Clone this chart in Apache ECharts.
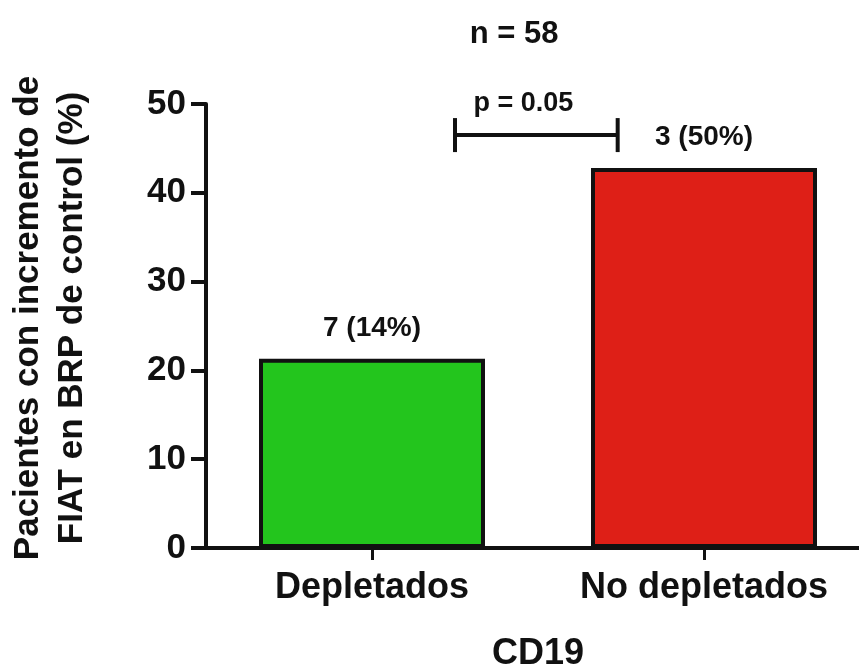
<!DOCTYPE html>
<html>
<head>
<meta charset="utf-8">
<script src="https://cdn.jsdelivr.net/npm/echarts@6/dist/echarts.min.js"></script>
<style>
html,body{margin:0;padding:0;background:#fff;overflow:hidden;}
#chart{width:859px;height:666px;}
</style>
</head>
<body>
<div id="chart"></div>
<script>
var categories = ['Depletados', 'No depletados'];
var values = [21.3, 42.8];
var barLabels = ['7 (14%)', '3 (50%)'];
var barColors = ['#23c51d', '#de1f17'];
var yTicks = [0, 10, 20, 30, 40, 50];
var titleText = 'n = 58';
var xName = 'CD19';
var yName = 'Pacientes con incremento de\nFIAT en BRP de control (%)';
var pText = 'p = 0.05';
// bracket: [start position, end position, height] in axis units
var bracket = [[0.25, 0.74, 46.5]];

var FONT = '"Liberation Sans", Arial, Helvetica, sans-serif';
var chart = echarts.init(document.getElementById('chart'), null, {renderer: 'canvas'});

var option = {
  backgroundColor: '#ffffff',
  animation: false,
  title: {
    text: titleText,
    left: 509, top: 14,
    textAlign: 'center',
    textStyle: {fontFamily: FONT, fontSize: 31, fontWeight: 'bold', color: '#111'}
  },
  grid: {left: 206, width: 664, top: 104, bottom: 118, containLabel: false, outerBoundsMode: 'none'},
  xAxis: [{
    type: 'category',
    data: categories,
    name: xName,
    nameLocation: 'middle',
    nameGap: 88,
    nameTextStyle: {fontFamily: FONT, fontSize: 36, fontWeight: 'bold', color: '#111', verticalAlign: 'top'},
    axisLine: {show: true, onZero: false, lineStyle: {color: '#111', width: 4}},
    axisTick: {show: true, alignWithLabel: true, length: 12, lineStyle: {color: '#111', width: 3}},
    axisLabel: {fontFamily: FONT, fontSize: 36, fontWeight: 'bold', color: '#111', margin: 22},
    splitLine: {show: false}
  }, {
    type: 'value', min: -0.5, max: 1.5, show: false
  }],
  yAxis: {
    type: 'value',
    min: yTicks[0], max: yTicks[yTicks.length - 1], interval: 10,
    name: yName,
    nameLocation: 'middle',
    nameRotate: 90,
    nameGap: 112,
    nameTextStyle: {fontFamily: FONT, fontSize: 35, fontWeight: 'bold', color: '#111', lineHeight: 44, padding: [0, 0, 0, 16]},
    axisLine: {show: true, onZero: false, lineStyle: {color: '#111', width: 4}},
    axisTick: {show: true, length: 15, lineStyle: {color: '#111', width: 4}},
    axisLabel: {fontFamily: FONT, fontSize: 35, fontWeight: 'bold', color: '#111', margin: 20},
    splitLine: {show: false}
  },
  series: [{
    type: 'bar',
    xAxisIndex: 0,
    barWidth: 226,
    data: values.map(function (v, i) {
      return {value: v, itemStyle: {color: barColors[i]}};
    }),
    itemStyle: {borderColor: '#111', borderWidth: 4},
    label: {
      show: true, position: 'top', distance: 17,
      fontFamily: FONT, fontSize: 28, fontWeight: 'bold', color: '#111',
      formatter: function (p) { return barLabels[p.dataIndex]; }
    }
  }, {
    type: 'custom',
    xAxisIndex: 1,
    data: bracket,
    renderItem: function (params, api) {
      var a = api.coord([api.value(0), api.value(2)]);
      var b = api.coord([api.value(1), api.value(2)]);
      var cap = 17;
      var st = {stroke: '#111', lineWidth: 4};
      return {
        type: 'group',
        children: [
          {type: 'line', shape: {x1: a[0], y1: a[1], x2: b[0], y2: b[1]}, style: st},
          {type: 'line', shape: {x1: a[0], y1: a[1] - cap, x2: a[0], y2: a[1] + cap}, style: st},
          {type: 'line', shape: {x1: b[0], y1: b[1] - cap, x2: b[0], y2: b[1] + cap}, style: st},
          {type: 'text', x: (a[0] + b[0]) / 2 - 13, y: a[1] - 18,
           style: {text: pText, fill: '#111', font: 'bold 27px ' + FONT, align: 'center', verticalAlign: 'bottom'}}
        ]
      };
    }
  }]
};
chart.setOption(option);
</script>
</body>
</html>
